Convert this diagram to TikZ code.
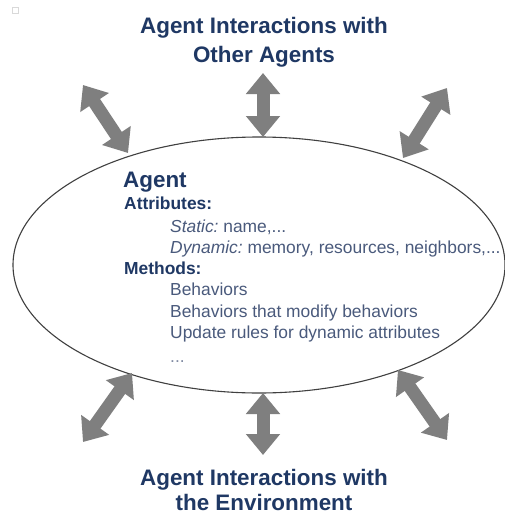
\documentclass[tikz,border=0pt]{standalone}
\usepackage{fontspec}
\setmainfont{Liberation Sans}
\usetikzlibrary{arrows.meta,shapes.geometric}
\definecolor{navy}{HTML}{1F3864}
\definecolor{bodytxt}{HTML}{4A5A7C}
\definecolor{arrowgray}{HTML}{7F7F7F}
\definecolor{rimgray}{HTML}{404040}
\tikzset{
  title/.style={font=\fontsize{22.4}{26}\selectfont\bfseries, text=navy, inner sep=0pt, anchor=base},
  head/.style={font=\fontsize{17.4}{20}\selectfont\bfseries, text=navy, inner sep=0pt, anchor=base west},
  bodyline/.style={font=\fontsize{17.4}{20}\selectfont, text=bodytxt, inner sep=0pt, anchor=base west},
  dblarrow/.style={draw=arrowgray, line width=13pt,
    {Triangle[width=33pt,length=21pt]}-{Triangle[width=33pt,length=21pt]}},
}
\begin{document}
\begin{tikzpicture}[x=1pt,y=-1pt]
\useasboundingbox (0,0) rectangle (505,514);
\fill[white] (0,0) rectangle (505,514);
% small mark top-left
\draw[black!15, line width=0.8pt] (12,7) rectangle (18,13);

% ellipse
\node[ellipse, draw=rimgray, line width=1.1pt, minimum width=492pt, minimum height=256pt, inner sep=0pt] (agent) at (259,265) {};

% titles
\node[title] (topA) at (264,33) {Agent Interactions with};
\node[title] (topB) at (264,62) {Other Agents};
\node[title] (botA) at (264,485) {Agent Interactions with};
\node[title] (botB) at (264,510) {the Environment};

% body text
\node[head, font=\fontsize{22.4}{26}\selectfont\bfseries] (tAgent) at (123,187) {Agent};
\node[head] (tAttr) at (124,209) {Attributes:};
\node[bodyline] (tStatic) at (170,232) {\itshape Static:\upshape\ name,...};
\node[bodyline] (tDyn) at (170,253) {\itshape Dynamic:\upshape\ memory, resources, neighbors,...};
\node[head] (tMeth) at (124,274) {Methods:};
\node[bodyline] (tB1) at (170,295) {Behaviors};
\node[bodyline] (tB2) at (170,317) {Behaviors that modify behaviors};
\node[bodyline] (tB3) at (170,338) {Update rules for dynamic attributes};
\node[bodyline, text=bodytxt!70] (tB4) at (170,362) {...};

% arrow end points
\coordinate (tlOut) at (83,85);
\coordinate (tlIn) at (128,153);
\coordinate (tcOut) at (263,73);
\coordinate (tcIn) at (263,137);
\coordinate (trOut) at (447,88);
\coordinate (trIn) at (403,158);
\coordinate (blIn) at (132,373);
\coordinate (blOut) at (83,442);
\coordinate (bcIn) at (263,393);
\coordinate (bcOut) at (263,455);
\coordinate (brIn) at (398,370);
\coordinate (brOut) at (447,440);

\draw[dblarrow] (tlOut) -- (tlIn);
\draw[dblarrow] (tcOut) -- (tcIn);
\draw[dblarrow] (trOut) -- (trIn);
\draw[dblarrow] (blIn) -- (blOut);
\draw[dblarrow] (bcIn) -- (bcOut);
\draw[dblarrow] (brIn) -- (brOut);
\end{tikzpicture}
\end{document}
